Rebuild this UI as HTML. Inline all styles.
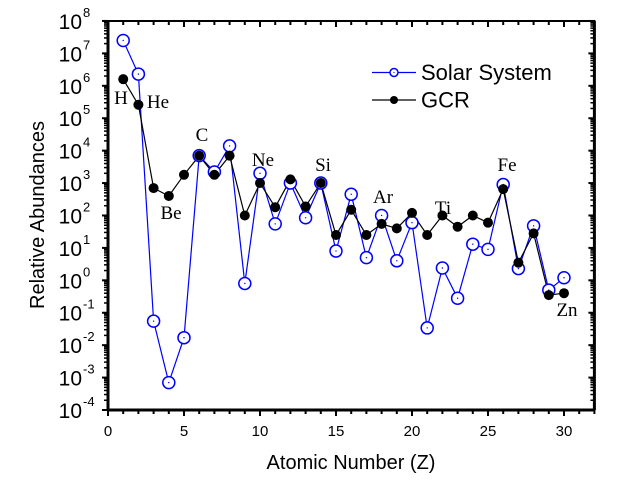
<!DOCTYPE html>
<html><head><meta charset="utf-8"><style>
html,body{margin:0;padding:0;background:#fff;}
svg{display:block;font-family:"Liberation Sans",sans-serif;}
</style></head><body>
<svg id="s" width="623" height="481" viewBox="0 0 623 481" xmlns="http://www.w3.org/2000/svg"></svg>
<script>
(function(){
const X0=108,UX=15.2,Y0=410,DY=32.42;
const X=z=>X0+z*UX, Y=v=>Y0-(Math.log10(v)+4)*DY;
const solar=[2.5e7,2.3e6,0.055,7e-4,0.017,7e3,2.2e3,1.4e4,0.8,2e3,55,1e3,85,1e3,8,450,5,100,4,60,0.034,2.4,0.28,13,9,900,2.3,48,0.5,1.2];
const gcr=[1.6e6,2.6e5,700,400,1800,7000,1800,7000,100,1000,180,1300,190,1000,25,150,25,55,40,120,25,100,45,100,60,650,3.5,28,0.35,0.4];
let h='';
const T=21,R=X(32);
h+=`<rect x="${X0}" y="${T}" width="${R-X0}" height="${Y0-T}" fill="none" stroke="#000" stroke-width="2"/>`;
h+=`<line x1="${X0}" y1="${Y0}" x2="${R}" y2="${Y0}" stroke="#000" stroke-width="3"/>`;
h+=`<line x1="${X0}" y1="${T}" x2="${X0}" y2="${Y0}" stroke="#000" stroke-width="3"/>`;
h+=`<line x1="${R}" y1="${T}" x2="${R}" y2="${Y0}" stroke="#000" stroke-width="3"/>`;
for(let z=0;z<=32;z++){const x=X(z),maj=z%5==0,L=maj?6:4;
 h+=`<line x1="${x}" y1="${Y0}" x2="${x}" y2="${Y0+L}" stroke="#000" stroke-width="2"/>`;
 h+=`<line x1="${x}" y1="${T}" x2="${x}" y2="${T+L}" stroke="#000" stroke-width="2"/>`;
 if(maj&&z<=30)h+=`<text x="${x}" y="436" font-size="15" text-anchor="middle">${z}</text>`;}
for(let e=-4;e<=8;e++){const y=Y(Math.pow(10,e));
 h+=`<line x1="${X0-6}" y1="${y}" x2="${X0}" y2="${y}" stroke="#000" stroke-width="2"/>`;
 h+=`<line x1="${R-6}" y1="${y}" x2="${R}" y2="${y}" stroke="#000" stroke-width="2"/>`;
 h+=`<text x="82" y="${y+8}" font-size="21" text-anchor="end">10</text><text x="83" y="${y-4}" font-size="13">${e}</text>`;
 if(e<8)for(let m=2;m<=9;m++){const yy=Y(m*Math.pow(10,e));
  h+=`<line x1="${X0-4}" y1="${yy}" x2="${X0}" y2="${yy}" stroke="#000" stroke-width="1.5"/>`;
  h+=`<line x1="${R-4}" y1="${yy}" x2="${R}" y2="${yy}" stroke="#000" stroke-width="1.5"/>`;}}
const pts=a=>a.map((v,i)=>X(i+1).toFixed(1)+','+Y(v).toFixed(1)).join(' ');
h+=`<polyline points="${pts(solar)}" fill="none" stroke="#0000ff" stroke-width="1.2"/>`;
h+=`<polyline points="${pts(gcr)}" fill="none" stroke="#000" stroke-width="1.2"/>`;
solar.forEach((v,i)=>{h+=`<circle cx="${X(i+1)}" cy="${Y(v)}" r="6" fill="#fff" stroke="#0000ff" stroke-width="1.5"/><circle cx="${X(i+1)}" cy="${Y(v)}" r="0.7" fill="#0000ff"/>`;});
gcr.forEach((v,i)=>{h+=`<circle cx="${X(i+1)}" cy="${Y(v)}" r="5" fill="#000"/>`;});
[['H',121,104],['He',158,108],['C',202,141],['Be',171,219],['Ne',263,166],['Si',323,171],['Ar',383,203],['Ti',443,214],['Fe',507,171],['Zn',567,316]].forEach(l=>{
 h+=`<text x="${l[1]}" y="${l[2]}" font-size="19" font-family="Liberation Serif,serif" text-anchor="middle">${l[0]}</text>`;});
h+=`<line x1="372" y1="72.5" x2="416" y2="72.5" stroke="#0000ff" stroke-width="1.2"/><circle cx="394" cy="72.5" r="4" fill="#fff" stroke="#0000ff" stroke-width="1.5"/><circle cx="394" cy="72.5" r="0.6" fill="#0000ff"/>`;
h+=`<text x="421" y="80" font-size="22">Solar System</text>`;
h+=`<line x1="372" y1="100" x2="416" y2="100" stroke="#000" stroke-width="1.2"/><circle cx="394" cy="100" r="4" fill="#000"/>`;
h+=`<text x="421" y="107.5" font-size="22">GCR</text>`;
h+=`<text x="351" y="469" font-size="20" text-anchor="middle">Atomic Number (Z)</text>`;
h+=`<text transform="translate(44,215) rotate(-90)" font-size="20" text-anchor="middle">Relative Abundances</text>`;
document.getElementById('s').innerHTML=h;
})();
</script>
</body></html>
